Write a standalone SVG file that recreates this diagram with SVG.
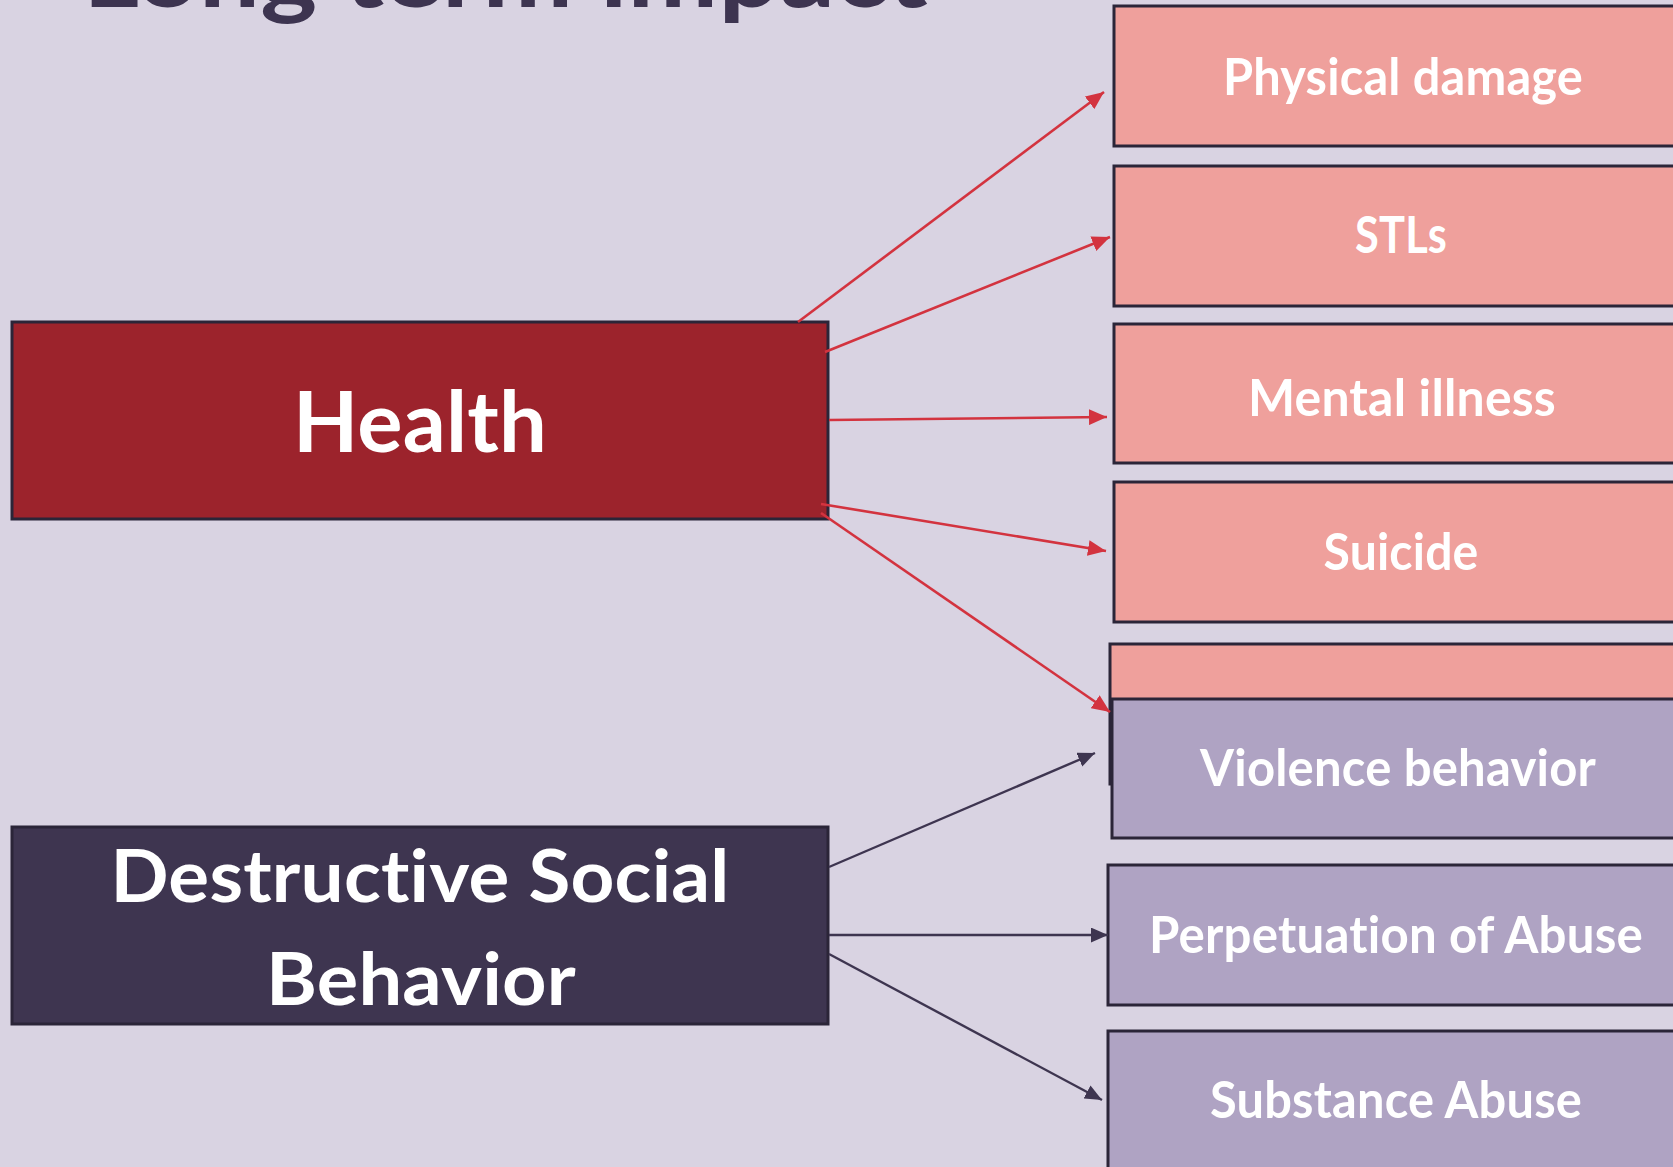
<svg xmlns="http://www.w3.org/2000/svg" width="1673" height="1167" viewBox="0 0 1673 1167">
<style>
.bg{fill:#d9d3e2}
.box{stroke:#2b2538;stroke-width:3}
.health{fill:#9c232c}
.dsb{fill:#3e3550}
.pink{fill:#efa09c}
.purple{fill:#afa3c3}
.t{font-family:Lato,"Open Sans","Liberation Sans",sans-serif;font-weight:bold;fill:#ffffff;text-anchor:middle;font-variant-ligatures:none;font-feature-settings:"liga" 0,"clig" 0,"dlig" 0;letter-spacing:0.2px}
.title{font-family:Lato,"Open Sans","Liberation Sans",sans-serif;font-weight:bold;fill:#3d3450;font-variant-ligatures:none;font-feature-settings:"liga" 0,"clig" 0;letter-spacing:0.2px}
.red{stroke:#d3333f;stroke-width:2.6;fill:none;marker-end:url(#ah-red)}
.dark{stroke:#3e3550;stroke-width:2.4;fill:none;marker-end:url(#ah-dark)}
</style>
<defs>
<marker id="ah-red" markerUnits="userSpaceOnUse" markerWidth="18" markerHeight="16" viewBox="0 0 16 14" refX="16" refY="7" orient="auto">
<path d="M0,0 L16,7 L0,14 Z" fill="#d3333f"/>
</marker>
<marker id="ah-dark" markerUnits="userSpaceOnUse" markerWidth="17" markerHeight="15" viewBox="0 0 16 14" refX="16" refY="7" orient="auto">
<path d="M0,0 L16,7 L0,14 Z" fill="#3e3550"/>
</marker>
</defs>
<rect class="bg" x="0" y="0" width="1673" height="1167"/>
<text class="title" x="83" y="7" font-size="94" textLength="845" lengthAdjust="spacingAndGlyphs">Long term impact</text>

<g id="node-health">
<rect class="box health" x="12" y="322" width="816" height="197"/>
<text class="t" x="420" y="452" font-size="84" textLength="254" lengthAdjust="spacingAndGlyphs">Health</text>
</g>
<g id="node-dsb">
<rect class="box dsb" x="12" y="827" width="816" height="197"/>
<text class="t" x="420" y="902" font-size="73" textLength="619" lengthAdjust="spacingAndGlyphs">Destructive Social</text>
<text class="t" x="421" y="1005" font-size="73" textLength="310" lengthAdjust="spacingAndGlyphs">Behavior</text>
</g>

<g id="node-physical">
<rect class="box pink" x="1114" y="6" width="600" height="140"/>
<text class="t" x="1403" y="95" font-size="51" textLength="360" lengthAdjust="spacingAndGlyphs">Physical damage</text>
</g>
<g id="node-stls">
<rect class="box pink" x="1114" y="166" width="600" height="140"/>
<text class="t" x="1401" y="253" font-size="51" textLength="92" lengthAdjust="spacingAndGlyphs">STLs</text>
</g>
<g id="node-mental">
<rect class="box pink" x="1114" y="324" width="600" height="139"/>
<text class="t" x="1402" y="416" font-size="51" textLength="308" lengthAdjust="spacingAndGlyphs">Mental illness</text>
</g>
<g id="node-suicide">
<rect class="box pink" x="1114" y="482" width="600" height="140"/>
<text class="t" x="1401" y="570" font-size="51" textLength="155" lengthAdjust="spacingAndGlyphs">Suicide</text>
</g>
<g id="node-hidden">
<rect class="box pink" x="1110" y="644" width="600" height="140"/>
</g>
<g id="node-violence">
<rect class="box purple" x="1112" y="699" width="600" height="139"/>
<text class="t" x="1398" y="786" font-size="51" textLength="396" lengthAdjust="spacingAndGlyphs">Violence behavior</text>
</g>
<g id="node-perpetuation">
<rect class="box purple" x="1108" y="865" width="600" height="140"/>
<text class="t" x="1396" y="953" font-size="51" textLength="494" lengthAdjust="spacingAndGlyphs">Perpetuation of Abuse</text>
</g>
<g id="node-substance">
<rect class="box purple" x="1108" y="1031" width="600" height="160"/>
<text class="t" x="1396" y="1118" font-size="51" textLength="372" lengthAdjust="spacingAndGlyphs">Substance Abuse</text>
</g>

<g id="connectors">
<line class="red" x1="798" y1="322" x2="1104" y2="92"/>
<line class="red" x1="825" y1="352" x2="1110" y2="237"/>
<line class="red" x1="829" y1="420" x2="1107" y2="417"/>
<line class="red" x1="821" y1="504" x2="1106" y2="551"/>
<line class="red" x1="821" y1="513" x2="1110" y2="712"/>
<line class="dark" x1="829" y1="867" x2="1095" y2="753"/>
<line class="dark" x1="829" y1="935" x2="1108" y2="935"/>
<line class="dark" x1="829" y1="954" x2="1102" y2="1100"/>
</g>
</svg>
